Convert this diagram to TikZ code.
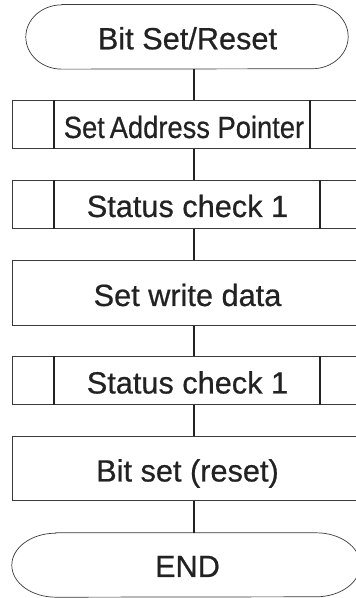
\documentclass[tikz,border=0pt]{standalone}
\usepackage{fontspec}
\setmainfont{Liberation Sans}
\newfontfamily\heavyfont{Liberation Sans}[BoldFont={Liberation Sans}, BoldFeatures={FakeBold=0.6}]
\usepackage{graphicx}
\definecolor{ink}{HTML}{222222}
\definecolor{edge}{HTML}{3A3A3A}
\begin{document}
\begin{tikzpicture}[x=1pt,y=1pt,
  lbl/.style={font=\heavyfont\bfseries\fontsize{30.7}{34}\selectfont, text=ink, inner sep=0pt, anchor=base},
  boxframe/.style={draw=edge, line width=1pt},
  termframe/.style={draw=edge, line width=0.7pt},
  sideline/.style={draw=ink, line width=1.2pt},
  conn/.style={draw=ink, line width=1.1pt}]
\useasboundingbox (0,0) rectangle (356,598);
\clip (0,0) rectangle (356,598);
% terminals as plain anchors
\node[minimum width=322, minimum height=64.3, inner sep=0pt] (start) at (187,561.2) {};
\node[minimum width=348, minimum height=64, inner sep=0pt] (end) at (186,33) {};
% boxes
\node[boxframe, minimum width=350, minimum height=48, inner sep=0pt] (b1) at (187,473) {};
\node[boxframe, minimum width=350, minimum height=48, inner sep=0pt] (b2) at (187,393.5) {};
\node[boxframe, minimum width=350, minimum height=65, inner sep=0pt] (b3) at (187,304.5) {};
\node[boxframe, minimum width=350, minimum height=48, inner sep=0pt] (b4) at (187,217) {};
\node[boxframe, minimum width=350, minimum height=64, inner sep=0pt] (b5) at (187,129) {};
% terminal outlines
\draw[termframe] ([xshift=36]start.north west) -- ([xshift=-36]start.north east)
  arc[start angle=90, end angle=-90, x radius=36, y radius=32.15]
  -- ([xshift=36]start.south west)
  arc[start angle=270, end angle=90, x radius=36, y radius=32.15] -- cycle;
\draw[termframe] ([xshift=44]end.north west) -- ([xshift=-44]end.north east)
  arc[start angle=90, end angle=-90, x radius=44, y radius=32]
  -- ([xshift=44]end.south west)
  arc[start angle=270, end angle=90, x radius=44, y radius=32] -- cycle;
% side bars of predefined-process boxes
\draw[sideline] (54,0 |- b1.north) -- (54,0 |- b1.south);
\draw[sideline] (310,0 |- b1.north) -- (310,0 |- b1.south);
\draw[sideline] (54,0 |- b2.north) -- (54,0 |- b2.south);
\draw[sideline] (320,0 |- b2.north) -- (320,0 |- b2.south);
\draw[sideline] (54,0 |- b4.north) -- (54,0 |- b4.south);
\draw[sideline] (320,0 |- b4.north) -- (320,0 |- b4.south);
% labels
\node[lbl] (tstart) at (187.5,548.7) {Bit Set/Reset};
\node[lbl] (t1) at (184,460) {\scalebox{0.89}[1]{Set\hspace{-3pt} Address Pointer}};
\node[lbl] (t2) at (187.5,381) {Status check 1};
\node[lbl] (t3) at (187.5,292) {Set write data};
\node[lbl] (t4) at (187.5,204.5) {Status check 1};
\node[lbl] (t5) at (187.5,116.5) {Bit set (reset)};
\node[lbl] (tend) at (187.5,21) {END};
% connectors
\coordinate (cx) at (194,0);
\draw[conn] (start.south -| cx) -- (b1.north -| cx);
\draw[conn] (b1.south -| cx) -- (b2.north -| cx);
\draw[conn] (b2.south -| cx) -- (b3.north -| cx);
\draw[conn] (b3.south -| cx) -- (b4.north -| cx);
\draw[conn] (b4.south -| cx) -- (b5.north -| cx);
\draw[conn] (b5.south -| cx) -- (end.north -| cx);
\end{tikzpicture}
\end{document}
